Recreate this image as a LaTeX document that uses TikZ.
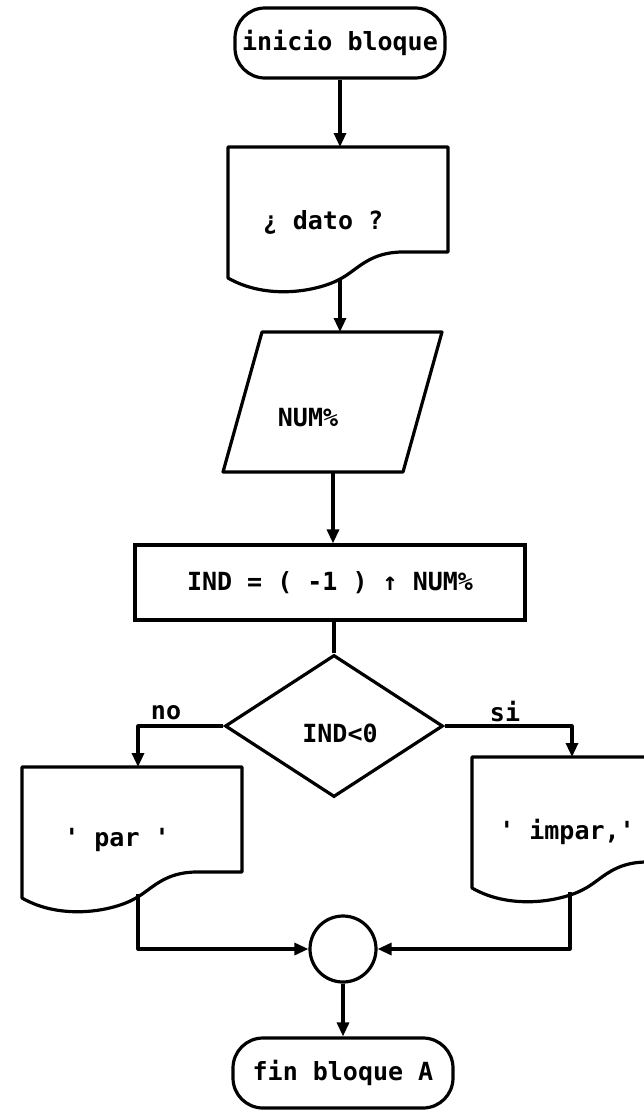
\documentclass[tikz,border=0pt]{standalone}
\usepackage{fontspec}
\setmonofont{DejaVu Sans Mono}
\usetikzlibrary{arrows.meta,shapes.geometric}
\tikzset{
  every node/.style={font=\ttfamily\bfseries\fontsize{25}{30}\selectfont, inner sep=0pt},
  line/.style={line width=3.2pt, line join=round},
  flow/.style={line, -{Triangle[length=14pt,width=12pt]}},
  term/.style={draw, line width=3.2pt, rounded corners=30pt},
  proc/.style={draw, line width=3.2pt},
  dec/.style={draw, diamond, line width=3.2pt, aspect=1.535},
  conn/.style={draw, circle, line width=3.2pt}
}
\newcommand\docshape[4]{% x0, y0, name, entry x offset
  \begin{scope}[shift={(#1,#2)}]
    \draw[line] (0,0) -- (220,0) -- (220,105) -- (175,105)
      .. controls (142,105) and (130,122) .. (114,131)
      .. controls (92,144) and (40,154) .. (0,131) -- cycle;
    \coordinate (#3-in) at (#4,0);
  \end{scope}}
\begin{document}
\begin{tikzpicture}[x=1pt,y=-1pt]
\useasboundingbox (0,0) rectangle (644,1111);
\clip (0,0) rectangle (644,1111);
\fill[white] (0,0) rectangle (644,1111);

% start
\node[term, minimum width=210pt, minimum height=70pt] (start) at (340,43) {inicio bloque};

% input document
\docshape{228}{147}{doca}{112}
\coordinate (doca-out) at (340,278);
\node (datotxt) at (323,222) {¿ dato ?};

% parallelogram
\draw[line] (262,332) -- (442,332) -- (403,472) -- (223,472) -- cycle;
\coordinate (ptop) at (340,332);
\coordinate (pbot) at (333,472);
\node (numtxt) at (308,418) {NUM\%};

% process
\node[proc, minimum width=390pt, minimum height=75pt] (proc) at (330,582.5) {IND = ( -1 ) ↑ NUM\%};

% decision
\node[dec, minimum width=218pt, minimum height=142pt] (dec) at (334,726) {};
\node (dectxt) at (340,733) {IND<0};

% output documents
\docshape{22}{767}{docl}{116}
\coordinate (docl-out) at (138,894);
\node (partxt) at (117,840) {' par '};

\docshape{472}{757}{docr}{100}
\coordinate (docr-out) at (570,892);
\node (impartxt) at (567,832) {' impar,'};

% join
\node[conn, minimum size=66pt] (join) at (343,949) {};

% end
\node[term, minimum width=220pt, minimum height=70pt] (end) at (343,1073) {fin bloque A};

% labels
\node (no) at (166,713) {no};
\node (si) at (505,712) {si};

% connectors
\draw[flow] (start.south) -- (doca-in);
\draw[flow] (doca-out) -- (ptop);
\draw[flow] (pbot) -- (pbot |- proc.north);
\draw[line] (dec.north |- proc.south) -- (dec.north);
\draw[flow] (dec.west) -| (docl-in);
\draw[flow] (dec.east) -| (docr-in);
\draw[flow] (docl-out) |- (join.west);
\draw[flow] (docr-out) |- (join.east);
\draw[flow] (join.south) -- (end.north);
\end{tikzpicture}
\end{document}
